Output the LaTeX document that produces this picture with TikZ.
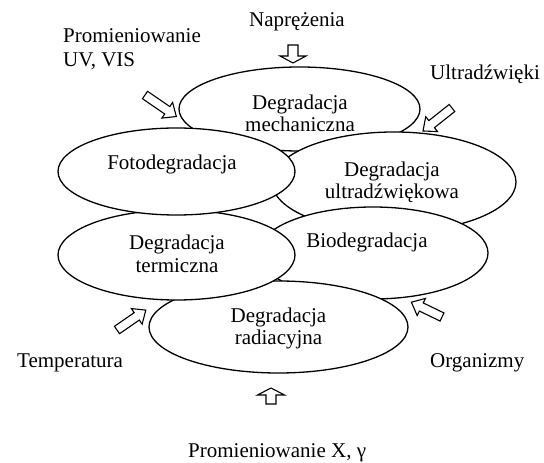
\documentclass[tikz,border=0pt]{standalone}
\usepackage{fontspec}
\setmainfont{Liberation Serif}
\usetikzlibrary{shapes.geometric}
\tikzset{
  blob/.style={ellipse, draw, fill=white, line width=1.3pt, inner sep=0pt},
  txt/.style={anchor=base, inner sep=0pt},
  lbl/.style={anchor=base west, inner sep=0pt},
  arrowline/.style={draw, fill=white, line width=1.1pt, line join=miter},
  pics/blockarr/.style n args={4}{code={
    \path[arrowline] (0,-#4) -- ({#1-#2},-#4) -- ({#1-#2},-#3) -- (#1,0) -- ({#1-#2},#3) -- ({#1-#2},#4) -- (0,#4) -- cycle;
  }}
}
\begin{document}
\begin{tikzpicture}[x=1pt,y=1pt,font=\fontsize{21}{24}\selectfont]
\useasboundingbox (0,0) rectangle (544,463);

% ellipses (bottom to top)
\node[blob, minimum width=241pt, minimum height=84pt] (mech) at (299.5,354) {};
\node[txt] (mech1) at (300,353) {Degradacja};
\node[txt] (mech2) at (300,331) {mechaniczna};

\node[blob, minimum width=244pt, minimum height=100pt] (ultra) at (394,281) {};
\node[txt] (ultra1) at (392,286) {Degradacja};
\node[txt] (ultra2) at (392,264) {ultradźwiękowa};

\node[blob, minimum width=230pt, minimum height=92pt] (bio) at (373,210) {};
\node[txt] (bio1) at (367,215) {Biodegradacja};

\node[blob, minimum width=259pt, minimum height=92pt] (rad) at (278.5,136) {};
\node[txt] (rad1) at (278.5,140) {Degradacja};
\node[txt] (rad2) at (278.5,118) {radiacyjna};

\node[blob, minimum width=237pt, minimum height=90pt] (term) at (176.5,208) {};
\node[txt] (term1) at (177,213) {Degradacja};
\node[txt] (term2) at (177,190) {termiczna};

\node[blob, minimum width=237pt, minimum height=87pt] (foto) at (176.5,291.5) {};
\node[txt] (foto1) at (172,293) {Fotodegradacja};

% outside labels
\node[lbl] (uv1) at (63,420) {Promieniowanie};
\node[lbl] (uv2) at (63,396) {UV, VIS};
\node[txt] (napr) at (297,436) {Naprężenia};
\node[lbl] (ultr) at (430,383) {Ultradźwięki};
\node[lbl] (temp) at (17,95) {Temperatura};
\node[lbl] (org) at (430,95) {Organizmy};
\node[lbl] (xg) at (188,5) {Promieniowanie X, γ};

% block arrows
\pic[rotate=-90] at (293,418) {blockarr={18}{7}{13}{5}};
\pic[rotate=90] at (271,59) {blockarr={16}{7}{13.5}{5}};
\pic[rotate=-34.5] at (145,368) {blockarr={38}{11}{9.5}{4.5}};
\pic[rotate=218.4] at (452,355) {blockarr={37}{11}{9.5}{4.5}};
\pic[rotate=34.6] at (117,133) {blockarr={35}{11}{9.5}{4.5}};
\pic[rotate=154.2] at (442,146) {blockarr={34}{11}{9.5}{4.5}};
\end{tikzpicture}
\end{document}
